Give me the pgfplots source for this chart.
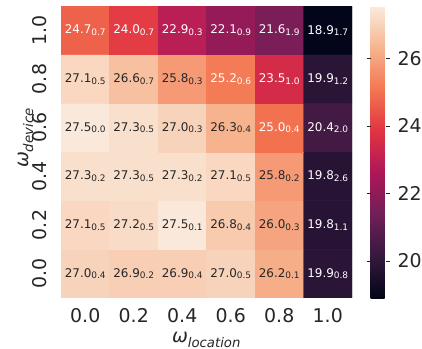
\documentclass[border=0pt]{standalone}
\usepackage{fontspec}
\setmainfont{DejaVu Sans}
\usepackage{pgfplots}
\pgfplotsset{compat=1.18}
\usepackage{pgfplotstable}
\definecolor{txtdark}{HTML}{262626}
\pgfplotstableread{
x y v s w
0 0 27.0 0.4 0
1 0 26.9 0.2 0
2 0 26.9 0.4 0
3 0 27.0 0.5 0
4 0 26.2 0.1 0
5 0 19.9 0.8 1
0 1 27.1 0.5 0
1 1 27.2 0.5 0
2 1 27.5 0.1 0
3 1 26.8 0.4 0
4 1 26.0 0.3 0
5 1 19.8 1.1 1
0 2 27.3 0.2 0
1 2 27.3 0.5 0
2 2 27.3 0.2 0
3 2 27.1 0.5 0
4 2 25.8 0.2 0
5 2 19.8 2.6 1
0 3 27.5 0.0 0
1 3 27.3 0.5 0
2 3 27.0 0.3 0
3 3 26.3 0.4 0
4 3 25.0 0.4 1
5 3 20.4 2.0 1
0 4 27.1 0.5 0
1 4 26.6 0.7 0
2 4 25.8 0.3 0
3 4 25.2 0.6 1
4 4 23.5 1.0 1
5 4 19.9 1.2 1
0 5 24.7 0.7 1
1 5 24.0 0.7 1
2 5 22.9 0.3 1
3 5 22.1 0.9 1
4 5 21.6 1.9 1
5 5 18.9 1.7 1
}\data
\begin{document}
\begin{tikzpicture}
\begin{axis}[
  at={(0,0)}, anchor=south west,
  scale only axis, width=291bp, height=292bp,
  xmin=-0.5, xmax=5.5, ymin=-0.5, ymax=5.5,
  axis line style={draw=none},
  xtick={0,...,5}, ytick={0,...,5},
  xticklabels={0.0,0.2,0.4,0.6,0.8,1.0},
  yticklabels={0.0,0.2,0.4,0.6,0.8,1.0},
  major tick length=0pt,
  tick label style={font=\fontsize{19}{19}\selectfont, text=txtdark},
  xticklabel style={anchor=base, inner sep=0pt},
  xticklabel shift=24bp,
  yticklabel style={rotate=90, anchor=base, inner sep=0pt},
  yticklabel shift=14bp,
  xlabel={\textit{ω\textsubscript{location}}},
  ylabel={\textit{ω\textsubscript{device}}},
  label style={font=\fontsize{19}{19}\selectfont, text=txtdark, inner sep=0pt},
  xlabel style={at={(axis description cs:0.5,-0.154)}, anchor=base},
  ylabel style={at={(axis description cs:-0.110,0.548)}, anchor=base},
  colormap={rocket}{rgb255=(3,5,26) rgb255=(53,25,62) rgb255=(112,31,87) rgb255=(173,23,89) rgb255=(225,51,66) rgb255=(243,118,81) rgb255=(246,180,143) rgb255=(250,235,221)},
  point meta min=18.9, point meta max=27.55,
  colorbar,
  colorbar style={
    at={(parent axis.north east)}, anchor=north west, xshift=10bp,
    scale only axis, width=15bp, height=292bp,
    axis line style={draw=none},
    ytick={20,22,24,26},
    yticklabel pos=right,
    tick align=outside, major tick length=4bp,
    ytick style={draw=txtdark, line width=0.6pt},
    yticklabel style={font=\fontsize{19}{19}\selectfont, text=txtdark, anchor=west, inner sep=0pt},
    yticklabel shift=8bp,
    /pgf/number format/assume math mode=true,
  },
  /pgf/number format/assume math mode=true,
]
\addplot[matrix plot*, mesh/cols=6, point meta=explicit] table[x=x, y=y, meta=v] {\data};
\addplot[draw=none, mark=none,
  point meta=explicit,
  visualization depends on={\thisrow{s} \as \sd},
  visualization depends on={\thisrow{w} \as \wh},
  nodes near coords={\ifdim\wh pt>0.5pt\color{white}\else\color{txtdark}\fi\fontsize{12}{12}\selectfont\pgfmathprintnumber[fixed,fixed zerofill,precision=1,assume math mode=true]{\pgfplotspointmeta}\raisebox{-1.5bp}{\fontsize{9}{9}\selectfont\pgfmathprintnumber[fixed,fixed zerofill,precision=1,assume math mode=true]{\sd}}},
  nodes near coords style={anchor=center, inner sep=0pt},
] table[x=x, y=y, meta=v] {\data};
\end{axis}
\pgfresetboundingbox
\useasboundingbox (-61bp,-51bp) rectangle (361bp,298bp);
\end{tikzpicture}
\end{document}
